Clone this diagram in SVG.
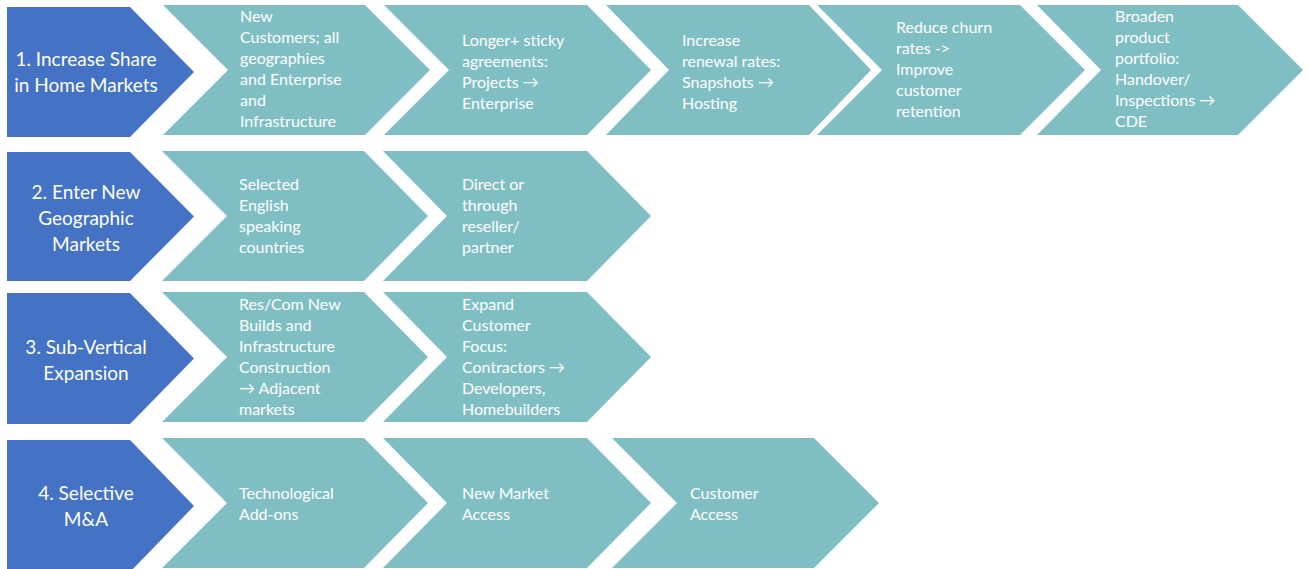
<svg xmlns="http://www.w3.org/2000/svg" width="1308" height="569" viewBox="0 0 1308 569">
<style>
.blue{fill:#4472C4}
.teal{fill:#7FBFC4}
.bt{fill:#FFFFFF;font-family:Lato,"DejaVu Sans",sans-serif;font-size:19px;text-anchor:middle}
.ct{fill:#FFFFFF;font-family:Lato,"DejaVu Sans",sans-serif;font-size:16px}
</style>
<rect width="1308" height="569" fill="#FFFFFF"/>
<g id="row1">
<g id="r1-head"><polygon class="blue" points="7,7 130,7 194,72 130,137 7,137"/>
<text class="bt" x="86" y="66">1. Increase Share</text><text class="bt" x="86" y="92">in Home Markets</text></g>
<g id="r1-c1"><polygon class="teal" points="163,5 365,5 430,70 365,135 163,135 228,70"/>
<text class="ct" x="240" y="22">New</text><text class="ct" x="240" y="43">Customers; all</text><text class="ct" x="240" y="64">geographies</text><text class="ct" x="240" y="85">and Enterprise</text><text class="ct" x="240" y="106">and</text><text class="ct" x="240" y="127">Infrastructure</text></g>
<g id="r1-c2"><polygon class="teal" points="384,5 587,5 651,70 587,135 384,135 449,70"/>
<text class="ct" x="462" y="46">Longer+ sticky</text><text class="ct" x="462" y="67">agreements:</text><text class="ct" x="462" y="88">Projects →</text><text class="ct" x="462" y="109">Enterprise</text></g>
<g id="r1-c3"><polygon class="teal" points="606,5 809,5 871,70 809,135 606,135 669,70"/>
<text class="ct" x="682" y="46">Increase</text><text class="ct" x="682" y="67">renewal rates:</text><text class="ct" x="682" y="88">Snapshots →</text><text class="ct" x="682" y="109">Hosting</text></g>
<g id="r1-c4"><polygon class="teal" points="817,5 1020,5 1085,70 1020,135 817,135 882,70"/>
<text class="ct" x="896" y="33">Reduce churn</text><text class="ct" x="896" y="54">rates -&gt;</text><text class="ct" x="896" y="75">Improve</text><text class="ct" x="896" y="96">customer</text><text class="ct" x="896" y="117">retention</text></g>
<g id="r1-c5"><polygon class="teal" points="1037,5 1238,5 1303,70 1238,135 1037,135 1101,70"/>
<text class="ct" x="1115" y="22">Broaden</text><text class="ct" x="1115" y="43">product</text><text class="ct" x="1115" y="64">portfolio:</text><text class="ct" x="1115" y="85">Handover/</text><text class="ct" x="1115" y="106">Inspections →</text><text class="ct" x="1115" y="127">CDE</text></g>
</g>
<g id="row2">
<g id="r2-head"><polygon class="blue" points="7,152 130,152 194,216.5 130,281 7,281"/>
<text class="bt" x="86" y="199">2. Enter New</text><text class="bt" x="86" y="225">Geographic</text><text class="bt" x="86" y="251">Markets</text></g>
<g id="r2-c1"><polygon class="teal" points="162,151 364,151 428,216 364,281 162,281 227,216"/>
<text class="ct" x="239" y="190">Selected</text><text class="ct" x="239" y="211">English</text><text class="ct" x="239" y="232">speaking</text><text class="ct" x="239" y="253">countries</text></g>
<g id="r2-c2"><polygon class="teal" points="383,151 587,151 651,216 587,281 383,281 447,216"/>
<text class="ct" x="462" y="190">Direct or</text><text class="ct" x="462" y="211">through</text><text class="ct" x="462" y="232">reseller/</text><text class="ct" x="462" y="253">partner</text></g>
</g>
<g id="row3">
<g id="r3-head"><polygon class="blue" points="7,293 130,293 194,358.5 130,424 7,424"/>
<text class="bt" x="86" y="354">3. Sub-Vertical</text><text class="bt" x="86" y="380">Expansion</text></g>
<g id="r3-c1"><polygon class="teal" points="162,292 364,292 428,357 364,422 162,422 227,357"/>
<text class="ct" x="239" y="310">Res/Com New</text><text class="ct" x="239" y="331">Builds and</text><text class="ct" x="239" y="352">Infrastructure</text><text class="ct" x="239" y="373">Construction</text><text class="ct" x="239" y="394">→ Adjacent</text><text class="ct" x="239" y="415">markets</text></g>
<g id="r3-c2"><polygon class="teal" points="383,292 587,292 651,357 587,422 383,422 447,357"/>
<text class="ct" x="462" y="310">Expand</text><text class="ct" x="462" y="331">Customer</text><text class="ct" x="462" y="352">Focus:</text><text class="ct" x="462" y="373">Contractors →</text><text class="ct" x="462" y="394">Developers,</text><text class="ct" x="462" y="415">Homebuilders</text></g>
</g>
<g id="row4">
<g id="r4-head"><polygon class="blue" points="7,440 130,440 194,506 130,572 7,572"/>
<text class="bt" x="86" y="500">4. Selective</text><text class="bt" x="86" y="526">M&amp;A</text></g>
<g id="r4-c1"><polygon class="teal" points="162,438 364,438 428,503 364,568 162,568 227,503"/>
<text class="ct" x="239" y="499">Technological</text><text class="ct" x="239" y="520">Add-ons</text></g>
<g id="r4-c2"><polygon class="teal" points="383,438 587,438 651,503 587,568 383,568 447,503"/>
<text class="ct" x="462" y="499">New Market</text><text class="ct" x="462" y="520">Access</text></g>
<g id="r4-c3"><polygon class="teal" points="612,438 814,438 879,503 814,568 612,568 677,503"/>
<text class="ct" x="690" y="499">Customer</text><text class="ct" x="690" y="520">Access</text></g>
</g>
<g id="connectors"></g>
</svg>
